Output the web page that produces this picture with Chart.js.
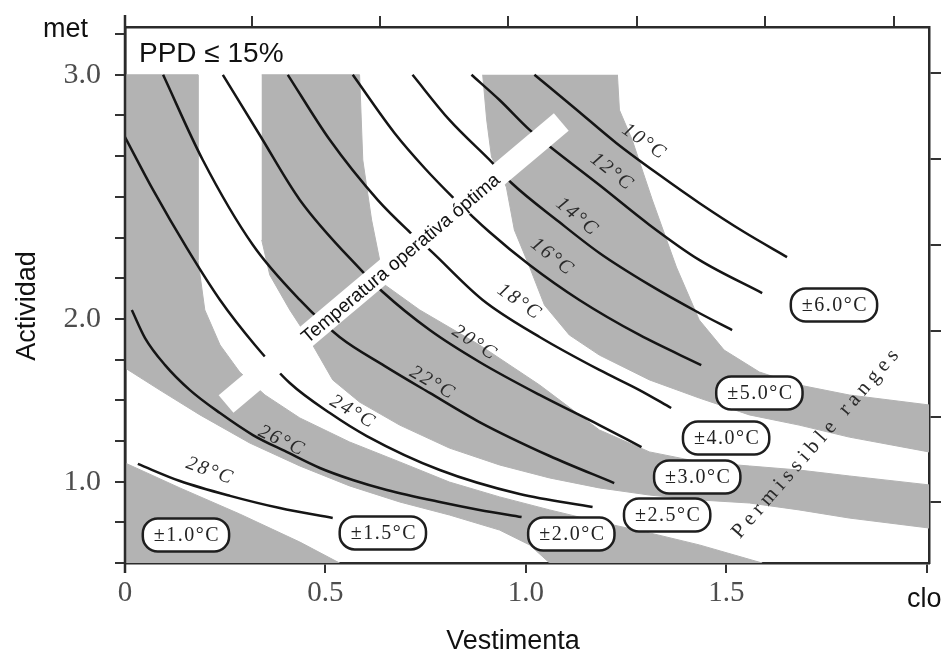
<!DOCTYPE html>
<html><head><meta charset="utf-8">
<script src="https://cdn.jsdelivr.net/npm/chart.js@4.4.1/dist/chart.umd.min.js"></script>
<style>html,body{margin:0;padding:0;background:#fff;}canvas{display:block;}</style>
</head><body>
<canvas id="c" width="947" height="660"></canvas>
<script>
// ---- axis ticks ----
const xTickValues = [0, 0.5, 1.0, 1.5, 2.0];
const xTickLabels = ['0', '0.5', '1.0', '1.5', ''];
const yTickValues = [0.6, 0.8, 1.0, 1.2, 1.4, 1.6, 1.8, 2.0, 2.2, 2.4, 2.6, 2.8, 3.0, 3.2];
const yLabelValues = [1.0, 1.8, 3.0];
const yLabelTexts = ['1.0', '2.0', '3.0'];
const topTickValues = [0.316, 0.636, 0.956, 1.277, 1.597, 1.917];
const rightTickValues = [3.009, 2.586, 2.163, 1.740, 1.318, 0.900];

// ---- permissible range bands (clo, met) ----
const bandPm10 = [[0,1.092],[0.137,0.969],[0.286,0.841],[0.436,0.703],[0.535,0.6],[0,0.6]];
const bandPm20 = [[0,3.0],[0.182,3.0],[0.182,2.090],[0.199,1.844],[0.237,1.672],[0.286,1.539],[0.349,1.426],[0.436,1.313],[0.560,1.195],[0.685,1.097],[0.809,0.998],[0.934,0.925],[1.059,0.861],[1.183,0.802],[1.308,0.748],[1.432,0.689],[1.589,0.6],
  [1.059,0.6],[1.009,0.689],[0.934,0.762],[0.809,0.836],[0.685,0.900],[0.560,0.979],[0.436,1.077],[0.311,1.190],[0.187,1.328],[0.087,1.450],[0,1.559]];
const bandPm30 = [[0.341,3.0],[0.585,3.0],[0.593,2.581],[0.615,2.286],[0.635,2.090],[0.648,1.967],[0.735,1.844],[0.884,1.672],[1.034,1.475],[1.183,1.254],[1.308,1.146],[1.432,1.097],[1.557,1.077],[1.681,1.057],[1.806,1.028],[2.005,0.984],
  [2.005,0.772],[1.806,0.821],[1.681,0.861],[1.557,0.895],[1.432,0.910],[1.308,0.934],[1.183,0.969],[1.059,1.018],[0.934,1.082],[0.809,1.165],[0.685,1.278],[0.585,1.391],[0.518,1.500],[0.468,1.672],[0.411,1.844],[0.361,2.016],[0.341,2.188]];
const bandPm50 = [[1.228,3.0],[1.233,2.827],[1.265,2.679],[1.315,2.385],[1.375,2.055],[1.432,1.795],[1.494,1.647],[1.582,1.539],[1.681,1.475],[1.806,1.426],[2.005,1.377],
  [2.005,1.146],[1.806,1.219],[1.681,1.278],[1.557,1.328],[1.432,1.411],[1.308,1.500],[1.183,1.622],[1.108,1.721],[1.046,1.868],[1.009,2.055],[0.971,2.237],[0.951,2.448],[0.914,2.596],[0.902,2.778],[0.892,3.0]];

// ---- isotherms of optimum operative temperature (clo, met) ----
const iso10 = [[1.021,3.0],[1.121,2.837],[1.225,2.665],[1.333,2.507],[1.432,2.370],[1.544,2.227],[1.651,2.104]];
const iso12 = [[0.864,3.0],[0.934,2.876],[1.009,2.729],[1.064,2.640],[1.183,2.458],[1.308,2.262],[1.432,2.090],[1.589,1.927]];
const iso14 = [[0.717,3.0],[0.809,2.778],[0.917,2.566],[0.964,2.468],[1.083,2.276],[1.183,2.124],[1.308,1.967],[1.432,1.829],[1.514,1.745]];
const iso16 = [[0.568,3.0],[0.672,2.714],[0.747,2.542],[0.817,2.399],[0.909,2.227],[1.009,2.065],[1.133,1.893],[1.283,1.721],[1.437,1.573]];
const iso18 = [[0.406,3.0],[0.511,2.679],[0.630,2.385],[0.710,2.227],[0.760,2.139],[0.892,1.893],[1.034,1.711],[1.183,1.549],[1.283,1.450],[1.362,1.362]];
const iso20 = [[0.244,3.0],[0.336,2.704],[0.436,2.385],[0.593,2.031],[0.643,1.932],[0.760,1.745],[0.884,1.588],[1.034,1.426],[1.183,1.278],[1.288,1.170]];
const iso22 = [[0.095,3.0],[0.194,2.581],[0.319,2.163],[0.436,1.893],[0.535,1.711],[0.648,1.568],[0.760,1.436],[0.884,1.293],[1.059,1.126],[1.220,0.993]];
const iso24 = [[0,2.694],[0.070,2.434],[0.154,2.149],[0.237,1.893],[0.324,1.672],[0.411,1.485],[0.511,1.337],[0.603,1.224],[0.785,1.057],[0.984,0.939],[1.166,0.875]];
const iso26 = [[0.017,1.844],[0.050,1.706],[0.100,1.573],[0.162,1.450],[0.237,1.337],[0.319,1.229],[0.403,1.146],[0.486,1.067],[0.568,1.008],[0.653,0.959],[0.785,0.900],[0.884,0.861],[0.989,0.826]];
const iso28 = [[0.032,1.087],[0.137,1.003],[0.262,0.930],[0.386,0.870],[0.518,0.821]];
const isotherms = [iso10, iso12, iso14, iso16, iso18, iso20, iso22, iso24, iso26, iso28];

const isoLabels = ['10°C','12°C','14°C','16°C','18°C','20°C','22°C','24°C','26°C','28°C'];
const isoLabelX = [1.295, 1.215, 1.128, 1.066, 0.984, 0.872, 0.767, 0.568, 0.391, 0.212];
const isoLabelY = [2.670, 2.522, 2.301, 2.104, 1.883, 1.682, 1.485, 1.342, 1.200, 1.052];
const isoLabelAngle = [35, 38, 40, 38, 35, 33, 30, 30, 25, 20];

// ---- range labels ----
const rangeLabels = ['±1.0°C','±1.5°C','±2.0°C','±2.5°C','±3.0°C','±4.0°C','±5.0°C','±6.0°C'];
const rangeX = [0.152, 0.643, 1.113, 1.352, 1.427, 1.499, 1.582, 1.768];
const rangeY = [0.738, 0.748, 0.743, 0.836, 1.023, 1.214, 1.436, 1.868];

// ---- optimum operative temperature line ----
const optimumLine = [[0.252,1.382],[1.088,2.768]];
const optimumText = 'Temperatura operativa óptima';
const optimumTextPos = [0.687, 2.099];
const permText = 'Permissible ranges';
const permTextPos = [1.726, 1.195];

const SERIF = '"Liberation Serif","Times New Roman",serif';
const SANS = '"Liberation Sans",Arial,sans-serif';
const GRAY = '#b3b3b3';
const X_MIN = 0, X_MAX = 2.005, Y_MIN = 0.6, Y_MAX = 3.235;

function pts(a){ return a.map(p => ({x:p[0], y:p[1]})); }
function near(a,b){ return Math.abs(a-b) < 1e-6; }
function noPad(s){ s.paddingTop = 0; s.paddingBottom = 0; s.paddingLeft = 0; s.paddingRight = 0; }

const datasets = [];
[bandPm10, bandPm20, bandPm30, bandPm50].forEach(b => datasets.push({
  data: pts(b), showLine: true, fill: 'shape', backgroundColor: GRAY, borderColor: GRAY,
  borderWidth: 1, pointRadius: 0, tension: 0, order: 3
}));
isotherms.forEach(c => datasets.push({
  data: pts(c), showLine: true, fill: false, borderColor: '#151515', borderWidth: 2.5,
  pointRadius: 0, cubicInterpolationMode: 'monotone', order: 2
}));
datasets.push({
  data: pts(optimumLine), showLine: true, fill: false, borderColor: '#ffffff', borderWidth: 23,
  borderCapStyle: 'butt', pointRadius: 0, order: 1
});

const annot = {
  id: 'annot',
  afterDatasetsDraw(chart){
    const {ctx} = chart;
    const xs = chart.scales.x, ys = chart.scales.y;
    const X = v => xs.getPixelForValue(v), Y = v => ys.getPixelForValue(v);
    ctx.save();
    ctx.save();
    ctx.translate(X(optimumTextPos[0]), Y(optimumTextPos[1]));
    ctx.rotate(-40 * Math.PI / 180);
    ctx.font = '19px ' + SANS; ctx.fillStyle = '#111';
    ctx.textAlign = 'center'; ctx.textBaseline = 'middle';
    ctx.fillText(optimumText, 0, 1);
    ctx.restore();
    isoLabels.forEach((t,i) => {
      ctx.save();
      ctx.translate(X(isoLabelX[i]), Y(isoLabelY[i]));
      ctx.rotate(isoLabelAngle[i] * Math.PI / 180);
      ctx.font = 'italic 20px ' + SERIF; ctx.fillStyle = '#2a2a2a';
      ctx.letterSpacing = '2px';
      ctx.textAlign = 'center'; ctx.textBaseline = 'middle';
      ctx.fillText(t, 0, 0);
      ctx.restore();
    });
    rangeLabels.forEach((t,i) => {
      const cx = X(rangeX[i]), cy = Y(rangeY[i]);
      ctx.save();
      ctx.font = '20px ' + SERIF; ctx.letterSpacing = '1.5px';
      const w = ctx.measureText(t).width + 20, h = 33;
      ctx.beginPath();
      ctx.roundRect(cx - w/2, cy - h/2, w, h, 15);
      ctx.fillStyle = '#fff'; ctx.fill();
      ctx.lineWidth = 2.5; ctx.strokeStyle = '#1e1e1e'; ctx.stroke();
      ctx.fillStyle = '#222'; ctx.textAlign = 'center'; ctx.textBaseline = 'middle';
      ctx.fillText(t, cx + 1, cy + 1);
      ctx.restore();
    });
    ctx.save();
    ctx.translate(X(permTextPos[0]), Y(permTextPos[1]));
    ctx.rotate(-49 * Math.PI / 180);
    ctx.font = '21px ' + SERIF; ctx.fillStyle = '#2a2a2a'; ctx.letterSpacing = '5px';
    ctx.textAlign = 'center'; ctx.textBaseline = 'middle';
    ctx.fillText(permText, 0, 0);
    ctx.restore();
    ctx.restore();
  },
  afterDraw(chart){
    const {ctx, chartArea: a} = chart;
    ctx.save();
    ctx.strokeStyle = '#2b2b2b'; ctx.lineWidth = 2.5;
    ctx.beginPath(); ctx.moveTo(a.left, a.top - 12); ctx.lineTo(a.left, a.bottom + 10); ctx.stroke();
    ctx.fillStyle = '#111';
    ctx.font = '27px ' + SANS; ctx.textBaseline = 'alphabetic'; ctx.textAlign = 'left';
    ctx.fillText('met', a.left - 82, a.top + 10);
    ctx.fillText('clo', a.right - 22, a.bottom + 44);
    ctx.textAlign = 'center';
    ctx.fillText('Vestimenta', 513, a.bottom + 86);
    ctx.font = '28px ' + SANS; ctx.textAlign = 'left';
    ctx.fillText('PPD ≤ 15%', a.left + 14, a.top + 35);
    ctx.save();
    ctx.translate(35, 306); ctx.rotate(-Math.PI/2);
    ctx.font = '27px ' + SANS; ctx.textAlign = 'center';
    ctx.fillText('Actividad', 0, 0);
    ctx.restore();
    ctx.restore();
  }
};

const gridCommon = {drawOnChartArea: false, drawTicks: true, tickLength: 10, color: '#333', lineWidth: 2};
const borderCommon = {display: true, color: '#2b2b2b', width: 2.5};

new Chart(document.getElementById('c'), {
  type: 'scatter',
  data: {datasets},
  options: {
    responsive: false, animation: false, events: [],
    layout: {padding: 0},
    plugins: {legend: {display: false}, tooltip: {enabled: false}},
    scales: {
      x: {type: 'linear', position: 'bottom', min: X_MIN, max: X_MAX,
        afterBuildTicks: s => { s.ticks = xTickValues.map(v => ({value: v})); },
        afterFit: s => { s.height = 97; noPad(s); },
        ticks: {autoSkip: false, maxRotation: 0, padding: 3, color: '#4d4d4d',
          font: {family: SERIF, size: 29},
          callback: v => { const i = xTickValues.findIndex(t => near(t, v)); return i >= 0 ? xTickLabels[i] : ''; }},
        grid: gridCommon, border: borderCommon},
      x2: {type: 'linear', position: 'top', min: X_MIN, max: X_MAX,
        afterBuildTicks: s => { s.ticks = topTickValues.map(v => ({value: v})); },
        afterFit: s => { s.height = 27; noPad(s); },
        ticks: {autoSkip: false, callback: () => ''},
        grid: Object.assign({}, gridCommon, {tickLength: 11}), border: borderCommon},
      y: {type: 'linear', position: 'left', min: Y_MIN, max: Y_MAX,
        afterBuildTicks: s => { s.ticks = yTickValues.map(v => ({value: v})); },
        afterFit: s => { s.width = 125; noPad(s); },
        ticks: {autoSkip: false, padding: 14, color: '#4d4d4d',
          font: {family: SERIF, size: 30},
          callback: v => { const i = yLabelValues.findIndex(t => near(t, v)); return i >= 0 ? yLabelTexts[i] : ''; }},
        grid: gridCommon, border: borderCommon},
      y2: {type: 'linear', position: 'right', min: Y_MIN, max: Y_MAX,
        afterBuildTicks: s => { s.ticks = rightTickValues.map(v => ({value: v})); },
        afterFit: s => { s.width = 18; noPad(s); },
        ticks: {autoSkip: false, callback: () => ''},
        grid: Object.assign({}, gridCommon, {tickLength: 12}), border: borderCommon}
    }
  },
  plugins: [annot]
});
</script>
</body></html>
